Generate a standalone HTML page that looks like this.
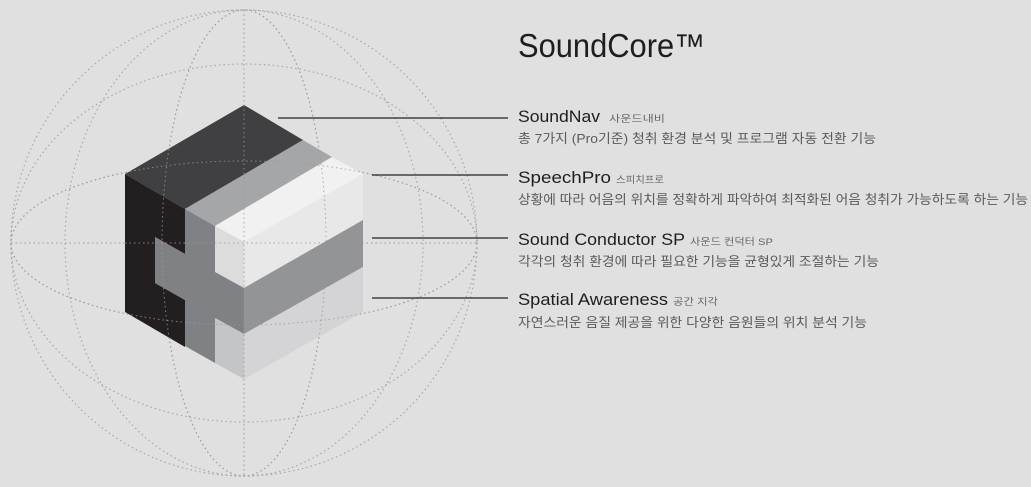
<!DOCTYPE html>
<html><head><meta charset="utf-8"><style>
html,body{margin:0;padding:0;background:#e0e0e0;}
svg{display:block}
.t{font-family:"Liberation Sans","Noto Sans CJK KR",sans-serif;}
.lab{font-size:17px;fill:#1e1e1e}
.sm{font-size:9.5px;fill:#666}
.d{font-size:13px;fill:#5a5a5a}
</style></head><body>
<svg width="1031" height="487" viewBox="0 0 1031 487" xmlns="http://www.w3.org/2000/svg">
<rect width="1031" height="487" fill="#e0e0e0"/>
<g fill="none" stroke="#a8a8a8" stroke-width="1.2" stroke-dasharray="1.5 3">
<circle cx="244" cy="243" r="233"/>
<ellipse cx="244" cy="243" rx="179" ry="233"/>
<ellipse cx="244" cy="243" rx="82" ry="233"/>
<ellipse cx="244" cy="243" rx="233" ry="179"/>
<ellipse cx="244" cy="243" rx="233" ry="82"/>
<line x1="244" y1="10" x2="244" y2="476"/>
<line x1="11" y1="243" x2="477" y2="243"/>
</g>
<g>
<polygon points="244,105 125,174 185,209 303,140" fill="#404042"/>
<polygon points="303,140 332,157 215,226 185,209" fill="#a5a6a8"/>
<polygon points="332,157 363,174 244,242 215,226" fill="#f1f1f2"/>
<polygon points="215,226 244,242 244,289 215,272" fill="#dcdcdd"/>
<polygon points="244,242 363,174 363,220 244,288" fill="#e8e8e9"/>
<polygon points="244,288 363,220 363,267 244,334" fill="#939496"/>
<polygon points="244,334 363,267 363,312 244,379" fill="#d4d4d6"/>
<polygon points="125,174 185,209 185,254 155,237 155,283 185,300 185,347 125,312" fill="#231f20"/>
<polygon points="185,209 215,226 215,272 244,288 244,334 215,318 215,363 185,346 185,300 155,283 155,237 185,254" fill="#808184"/>
<polygon points="215,318 244,334 244,379 215,363" fill="#c4c5c7"/>
</g>
<g fill="none" stroke="#9a9a9a" stroke-width="1" stroke-dasharray="1.5 3" opacity="0.8">
<ellipse cx="244" cy="243" rx="82" ry="233"/>
<ellipse cx="244" cy="243" rx="233" ry="82"/>
<line x1="244" y1="105" x2="244" y2="379"/>
<line x1="125" y1="243" x2="363" y2="243"/>
</g>
<g stroke="#222" stroke-width="1.3">
<line x1="278" y1="118" x2="508" y2="118"/>
<line x1="372" y1="175" x2="508" y2="175"/>
<line x1="372" y1="238" x2="508" y2="238"/>
<line x1="372" y1="298" x2="508" y2="298"/>
</g>
<g class="t">
<text x="518" y="57" font-size="33" fill="#1e1e1e" textLength="187" lengthAdjust="spacingAndGlyphs">SoundCore™</text>
<text x="518" y="122" class="lab" textLength="82" lengthAdjust="spacingAndGlyphs">SoundNav</text>
<text x="609" y="122" class="sm" textLength="56" lengthAdjust="spacingAndGlyphs">사운드내비</text>
<text x="518" y="143" class="d" textLength="358" lengthAdjust="spacingAndGlyphs">총 7가지 (Pro기준) 청취 환경 분석 및 프로그램 자동 전환 기능</text>
<text x="518" y="183" class="lab" textLength="93" lengthAdjust="spacingAndGlyphs">SpeechPro</text>
<text x="616" y="183" class="sm" textLength="48" lengthAdjust="spacingAndGlyphs">스피치프로</text>
<text x="518" y="204" class="d" textLength="510" lengthAdjust="spacingAndGlyphs">상황에 따라 어음의 위치를 정확하게 파악하여 최적화된 어음 청취가 가능하도록 하는 기능</text>
<text x="518" y="245" class="lab" textLength="167" lengthAdjust="spacingAndGlyphs">Sound Conductor SP</text>
<text x="690" y="245" class="sm" textLength="83" lengthAdjust="spacingAndGlyphs">사운드 컨덕터 SP</text>
<text x="518" y="266" class="d" textLength="361" lengthAdjust="spacingAndGlyphs">각각의 청취 환경에 따라 필요한 기능을 균형있게 조절하는 기능</text>
<text x="518" y="305" class="lab" textLength="150" lengthAdjust="spacingAndGlyphs">Spatial Awareness</text>
<text x="673" y="305" class="sm" textLength="45" lengthAdjust="spacingAndGlyphs">공간 지각</text>
<text x="518" y="327" class="d" textLength="349" lengthAdjust="spacingAndGlyphs">자연스러운 음질 제공을 위한 다양한 음원들의 위치 분석 기능</text>
</g>
</svg>
</body></html>
